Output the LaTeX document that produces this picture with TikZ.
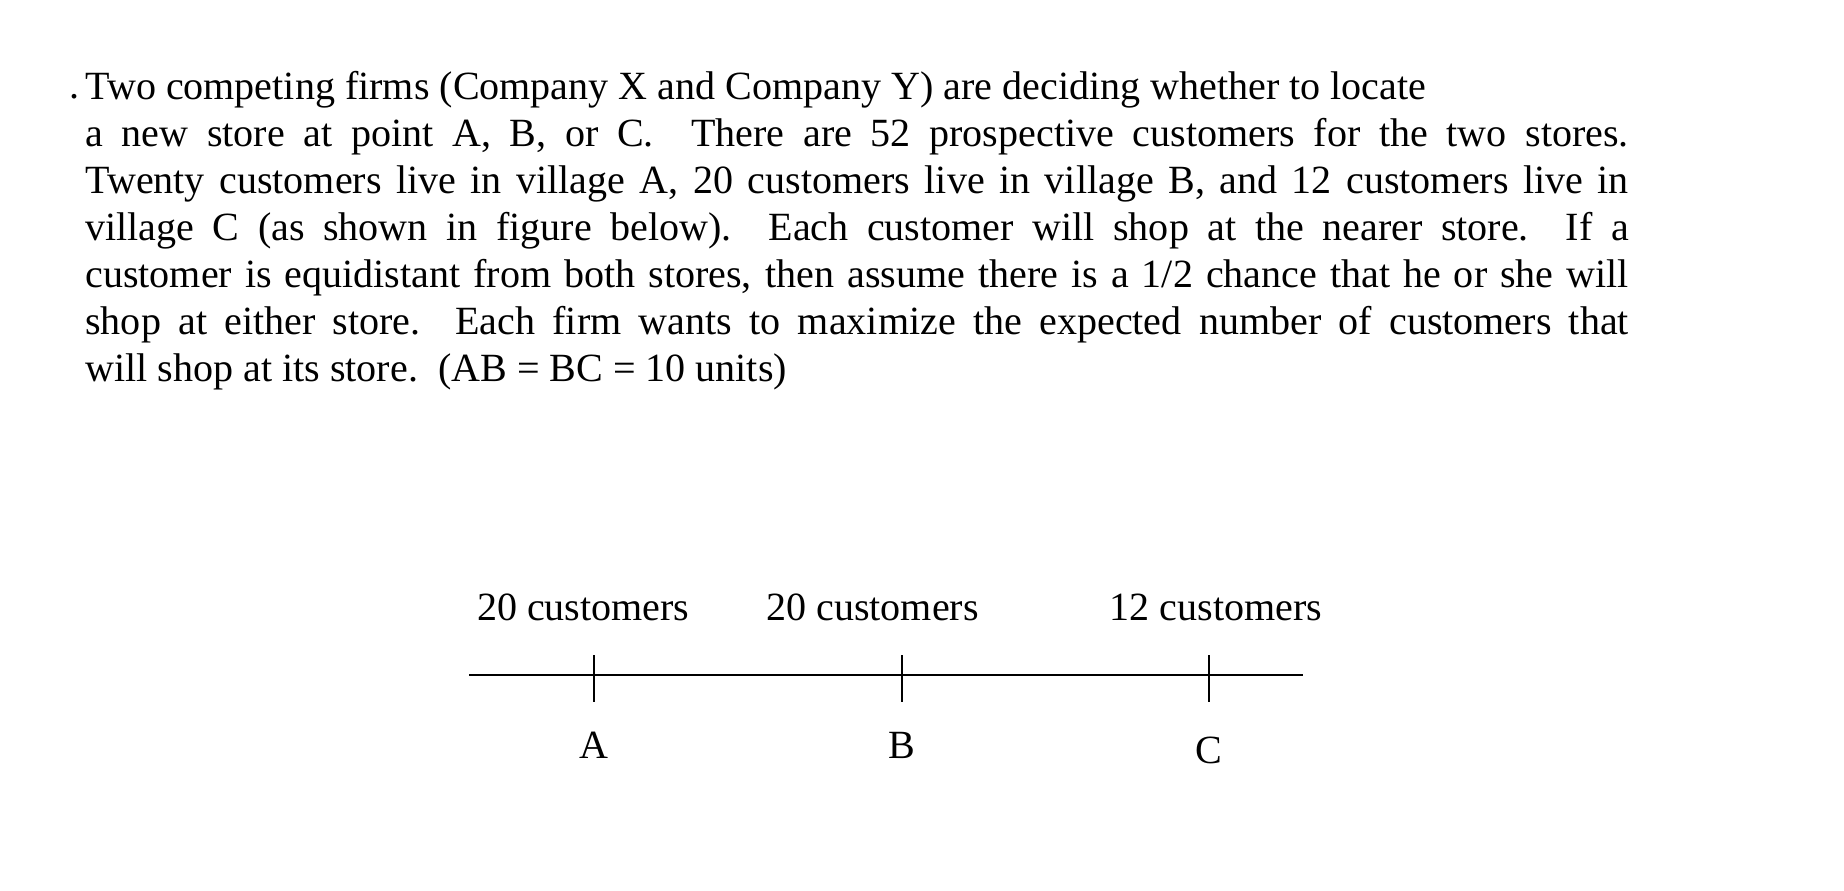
\documentclass[tikz,border=0pt]{standalone}
\usepackage{fontspec}
\setmainfont{Liberation Serif}
\begin{document}
\begin{tikzpicture}[x=0.01176cm,y=-0.01176cm,
  lab/.style={font=\fontsize{11.4pt}{13.4pt}\selectfont,inner sep=0pt},
  axis/.style={line width=0.022cm}]
\useasboundingbox (0,0) rectangle (1568,757);
\node[lab,anchor=base] (dot) at (63,84) {.};
\node[lab,anchor=north west,text width=15.44cm,align=justify] (para) at (72,60)
{Two competing firms (Company X and Company Y) are deciding whether to locate\\
a new store at point A, B, or C.\ \ There are 52 prospective customers for the two stores.\linebreak
Twenty customers live in village A, 20 customers live in village B, and 12 customers live in\linebreak
village C (as shown in figure below).\ \ Each customer will shop at the nearer store.\ \ If a\linebreak
customer is equidistant from both stores, then assume there is a 1/2 chance that he or she will\linebreak
shop at either store.\ \ Each firm wants to maximize the expected number of customers that\linebreak
will shop at its store.\ \ (AB = BC = 10 units)\par};
\coordinate (L) at (399,574);
\coordinate (R) at (1108,574);
\draw[axis] (L) -- (R);
\foreach \n/\x/\c/\yy/\k in {A/505/496/633/20, B/767/742/633/20, C/1028/1034/637/12}{
  \draw[axis] (\x,557) -- (\x,597);
  \node[lab,anchor=base] (c\n) at (\c,528) {\k\ customers};
  \node[lab,anchor=base] (p\n) at (\x,\yy+12) {\n};
}
\end{tikzpicture}
\end{document}
